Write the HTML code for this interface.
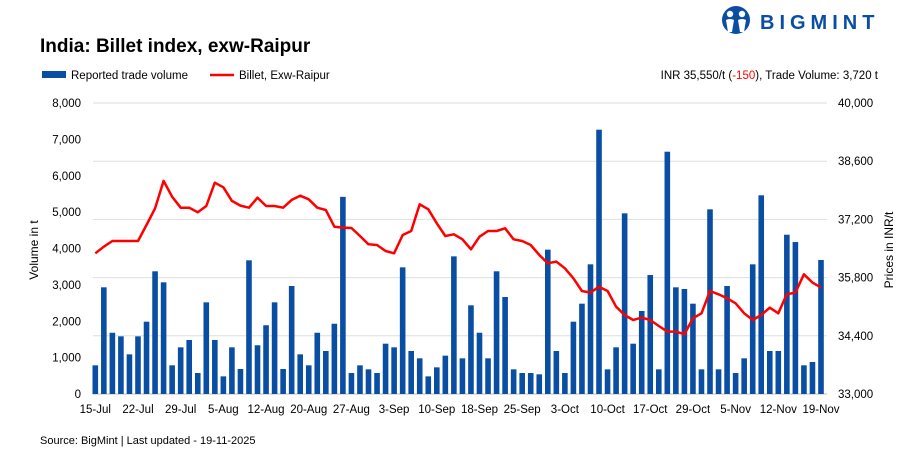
<!DOCTYPE html>
<html><head><meta charset="utf-8"><style>
body{margin:0;background:#fff;font-family:"Liberation Sans",sans-serif;}
#wrap{position:relative;width:913px;height:464px;overflow:hidden;}
</style></head><body>
<div id="wrap">
<svg id="chart" width="913" height="464" xmlns="http://www.w3.org/2000/svg">
  <g>
    <circle cx="736" cy="20" r="14" fill="#0a4ea3"/>
    <circle cx="730" cy="14" r="3.2" fill="#fff"/>
    <circle cx="742" cy="14" r="3.2" fill="#fff"/>
    <path d="M726 20 q4 -2 8 0 l-2 12 h-4z M738 20 q4 -2 8 0 l-2 12 h-4z" fill="#fff"/>
    <text x="760" y="29" font-size="20" font-weight="bold" fill="#0a4ea3" letter-spacing="5">BIGMINT</text>
  </g>
  <text x="40" y="52" font-size="19" font-weight="bold" fill="#000">India: Billet index, exw-Raipur</text>
  <g>
    <rect x="42" y="71" width="24" height="7" fill="#0a4ea3"/>
    <text x="71" y="79" font-size="11.5" fill="#000">Reported trade volume</text>
    <line x1="210" y1="75" x2="234" y2="75" stroke="#ff0000" stroke-width="2.5"/>
    <text x="239" y="79" font-size="11.5" fill="#000">Billet, Exw-Raipur</text>
  </g>
  <text x="878" y="79" font-size="11.5" fill="#000" text-anchor="end">INR 35,550/t (<tspan fill="#ff0000">-150</tspan>), Trade Volume: 3,720 t</text>
  <text transform="translate(38,250) rotate(-90)" font-size="12" text-anchor="middle">Volume in t</text>
  <text transform="translate(893,250) rotate(-90)" font-size="12" text-anchor="middle">Prices in INR/t</text>
  <text x="40" y="444" font-size="11" fill="#000">Source: BigMint | Last updated - 19-11-2025</text>
  <g id="grid"></g><g id="bars"></g><g id="line"></g><g id="axes"></g>
</svg>
</div>
<script>
const volumes=[788,2933,1684,1585,1090,1585,1988,3373,3070,788,1283,1485,577,2520,1485,485,1283,687,3675,1340,1890,2520,687,2969,1090,788,1684,1182,1932,
5420,577,788,678,577,1383,1283,3482,1182,981,485,733,1054,3784,981,2438,1684,981,3373,2667,678,577,577,541,3968,1182,577,1988,2483,
3565,7266,678,1283,4967,1383,2282,3271,678,6661,2933,2886,2483,678,5077,678,2969,577,981,3565,5462,1182,1182,4379,4178,788,880,3684];
const prices=[36385,36544,36681,36681,36681,36681,37066,37468,38125,37747,37482,37482,37371,37523,38084,37973,37644,37531,37482,37723,37523,37523,37482,37668,37771,37684,37482,37427,37025,
37002,36994,36801,36601,36585,36441,36385,36825,36922,37564,37444,37107,36801,36842,36721,36481,36785,36922,36922,36986,36721,36681,36585,36344,36144,36184,36024,35783,35478,
35438,35582,35478,35101,34901,34781,34837,34781,34636,34500,34500,34436,34821,34941,35478,35398,35302,35181,34941,34781,34901,35077,34941,35398,35438,35879,35679,35559];
const tickLabels=["15-Jul","22-Jul","29-Jul","5-Aug","12-Aug","20-Aug","27-Aug","3-Sep","10-Sep","18-Sep","25-Sep","3-Oct","10-Oct","17-Oct","29-Oct","5-Nov","12-Nov","19-Nov"];
const tickIdx=[0,5,10,15,20,25,30,35,40,45,50,55,60,65,70,75,80,85];
const leftTicks=[0,1000,2000,3000,4000,5000,6000,7000,8000];
const rightTicks=[33000,34400,35800,37200,38600,40000];
const NS="http://www.w3.org/2000/svg";
const x0=95.3,xEnd=821,yBase=394,yTop=103;
const step=(xEnd-x0)/(volumes.length-1);
const xs=i=>x0+i*step;
const yL=v=>yBase-(v/8000)*(yBase-yTop);
const yR=v=>yBase-((v-33000)/7000)*(yBase-yTop);
function mk(tag,attrs,parent,txt){const e=document.createElementNS(NS,tag);for(const k in attrs)e.setAttribute(k,attrs[k]);if(txt!==undefined)e.textContent=txt;document.getElementById(parent).appendChild(e);return e;}
const fmt=v=>v.toLocaleString('en-US');
rightTicks.forEach((t,i)=>{
  if(i>0){const g=mk('line',{x1:93,x2:827,y1:yR(t),y2:yR(t),stroke:'#dedede','stroke-width':1},'grid');
  
  }
  const l=mk('text',{x:838,y:yR(t)+4,'font-size':11.5,fill:'#000'},'axes',fmt(t));
  
  
});
const base=mk('line',{x1:93,x2:827,y1:yBase,y2:yBase,stroke:'#bfbfbf','stroke-width':1},'grid');


leftTicks.forEach(t=>{
  const l=mk('text',{x:81,y:yL(t)+4,'font-size':11.5,fill:'#000','text-anchor':'end'},'axes',fmt(t));
  
  
});
tickLabels.forEach((t,i)=>{
  const l=mk('text',{x:xs(tickIdx[i]),y:413,'font-size':11.5,fill:'#000','text-anchor':'middle'},'axes',t);
  
  
});
volumes.forEach((v,i)=>{
  const b=mk('rect',{x:xs(i)-2.8,y:yL(v),width:5.6,height:yBase-yL(v),fill:'#0a4ea3'},'bars');
  
  
});
const pts=prices.map((p,i)=>xs(i).toFixed(1)+','+yR(p).toFixed(1)).join(' ');
const pl=mk('polyline',{points:pts,fill:'none',stroke:'#ff0000','stroke-width':2.5,'stroke-linejoin':'round'},'line');


</script>
</body></html>
